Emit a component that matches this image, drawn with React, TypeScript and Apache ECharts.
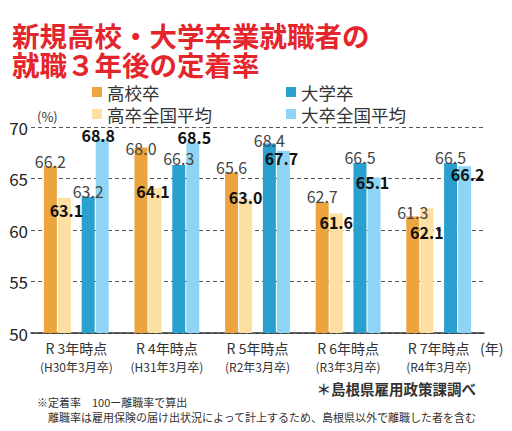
import React, { useEffect, useRef } from "react";
import * as echarts from "echarts";

const categories = ["R 3年時点", "R 4年時点", "R 5年時点", "R 6年時点", "R 7年時点"];
const subLabels = ["(H30年3月卒)", "(H31年3月卒)", "(R2年3月卒)", "(R3年3月卒)", "(R4年3月卒)"];
const seriesNames = ["高校卒", "高卒全国平均", "大学卒", "大卒全国平均"];
const highSchool = [66.2, 68.0, 65.6, 62.7, 61.3];
const highSchoolNational = [63.1, 64.1, 63.0, 61.6, 62.1];
const university = [63.2, 66.3, 68.4, 66.5, 66.5];
const universityNational = [68.8, 68.5, 67.7, 65.1, 66.2];
const yTicks = { min: 50, max: 70, interval: 5 };

// label placement tweaks (label centre relative to bar top, px)
const labelShift: number[][][] = [
  [[0, -5], [0, 0], [0, -5], [0, -6], [0, -5]],
  [[2, 12], [-2, 3], [0, -2], [0, 8.5], [0, 23.5]],
  [[0, -6], [0, -7], [0, -3], [0, -6], [0, -6]],
  [[-4, -4], [1.5, -5], [-2, 7], [-1.5, 5], [3, 8]],
];

const colors = ["#EBA43E", "#FDDFA2", "#2AA0CE", "#8ED5F5"];
const FONT = "'Noto Sans CJK JP', 'Noto Sans', sans-serif";

export default function App() {
  const ref = useRef<HTMLDivElement>(null);
  useEffect(() => {
    if (!ref.current) return;
    const chart = echarts.init(ref.current, undefined, { renderer: "svg" });
    const values = [highSchool, highSchoolNational, university, universityNational];
    const mkSeries = (i: number) => ({
      name: seriesNames[i],
      type: "bar",
      barWidth: 13,
      barGap: "8%",
      itemStyle: { color: colors[i] },
      data: values[i].map((v, j) => ({
        value: v,
        label: { offset: [labelShift[i][j][0], labelShift[i][j][1] + 8] },
      })),
      label: {
        show: true,
        position: "top",
        distance: 0,
        fontSize: 16,
        lineHeight: 16,
        fontFamily: FONT,
        color: i % 2 === 0 ? "#444" : "#111",
        fontWeight: i % 2 === 0 ? "normal" : "bold",
        formatter: (p: any) => Number(p.value).toFixed(1),
      },
    });
    const spacer = {
      name: "spacer",
      type: "bar",
      barWidth: 9,
      barGap: "8%",
      data: categories.map(() => null),
      silent: true,
    };
    const legendBase = {
      orient: "vertical",
      top: 83,
      padding: 0,
      itemGap: 4,
      itemWidth: 10,
      itemHeight: 10,
      icon: "rect",
      selectedMode: false,
      textStyle: { fontSize: 17.5, lineHeight: 18, color: "#333", fontFamily: FONT },
    };
    chart.setOption({
      animation: false,
      textStyle: { fontFamily: FONT },
      grid: { left: 31, right: 28, top: 127, bottom: 98, containLabel: false },
      legend: [
        { ...legendBase, data: [seriesNames[0], seriesNames[1]], left: 92 },
        { ...legendBase, data: [seriesNames[2], seriesNames[3]], left: 286 },
      ],
      xAxis: {
        type: "category",
        data: categories,
        axisTick: { show: false },
        axisLine: { show: true, lineStyle: { color: "#333", width: 1.5 } },
        axisLabel: {
          margin: 5,
          interval: 0,
          formatter: (v: string, idx: number) => `{a|${v}}\n{b|${subLabels[idx]}}`,
          rich: {
            a: { fontSize: 14, lineHeight: 19, color: "#333", fontFamily: FONT },
            b: { fontSize: 12, lineHeight: 19, color: "#333", fontFamily: FONT },
          },
        },
      },
      yAxis: {
        type: "value",
        min: yTicks.min,
        max: yTicks.max,
        interval: yTicks.interval,
        axisLine: { show: false },
        axisTick: { show: false },
        axisLabel: { fontSize: 17, color: "#222", margin: 3, fontFamily: FONT },
        splitLine: { show: true, lineStyle: { color: "#555", width: 1.2, type: [4, 3] } },
      },
      series: [mkSeries(0), mkSeries(1), spacer, mkSeries(2), mkSeries(3)],
      graphic: [
        {
          type: "text",
          x: 12,
          y: 21,
          style: {
            text: "新規高校・大学卒業就職者の\n就職３年後の定着率",
            fontSize: 27.5,
            lineHeight: 28.5,
            fontWeight: "bold",
            fill: "#E4262C",
            verticalAlign: "top",
            fontFamily: FONT,
          },
        },
        {
          type: "text",
          x: 37,
          y: 116,
          style: { text: "(%)", fontSize: 13, fill: "#333", verticalAlign: "middle", fontFamily: FONT },
        },
        {
          type: "text",
          x: 480,
          y: 348,
          style: { text: "(年)", fontSize: 14, fill: "#333", verticalAlign: "middle", fontFamily: FONT },
        },
        {
          type: "text",
          x: 476,
          y: 388,
          style: {
            text: "＊島根県雇用政策課調べ",
            fontSize: 14.5,
            fontWeight: "bold",
            fill: "#333",
            align: "right",
            verticalAlign: "middle",
            fontFamily: FONT,
          },
        },
        {
          type: "text",
          x: 37,
          y: 402,
          style: { text: "※定着率　100ー離職率で算出", fontSize: 11, fill: "#333", verticalAlign: "middle", fontFamily: FONT },
        },
        {
          type: "text",
          x: 48,
          y: 417,
          style: {
            text: "離職率は雇用保険の届け出状況によって計上するため、島根県以外で離職した者を含む",
            fontSize: 11,
            fill: "#333",
            verticalAlign: "middle",
            fontFamily: FONT,
          },
        },
      ],
    });
    return () => chart.dispose();
  }, []);
  return <div ref={ref} style={{ width: 512, height: 431, position: "absolute", left: 0, top: 0 }} />;
}
